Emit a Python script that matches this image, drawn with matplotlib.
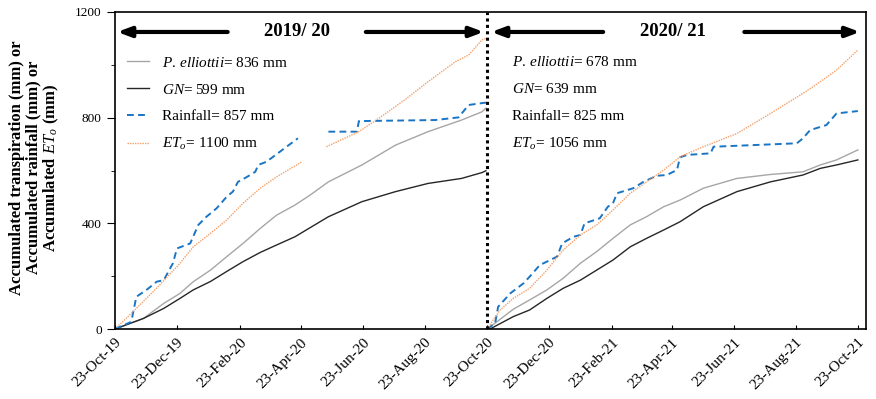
import pandas as pd
import numpy as np
import matplotlib
matplotlib.use('Agg')
import matplotlib.pyplot as plt
import matplotlib.dates as mdates
from matplotlib.ticker import MultipleLocator

plt.rcParams['font.family'] = 'Liberation Serif'
plt.rcParams['mathtext.fontset'] = 'custom'
plt.rcParams['mathtext.rm'] = 'Liberation Serif'
plt.rcParams['mathtext.it'] = 'Liberation Serif:italic'
plt.rcParams['mathtext.bf'] = 'Liberation Serif:bold'

nan = np.nan
start1 = pd.Timestamp('2019-10-23')
start2 = pd.Timestamp('2020-10-23')

# season 2019/20 (days since 23-Oct-19, accumulated mm)
pe1_days = [0, 28, 48, 64, 77, 94, 110, 126, 143, 159, 177, 192, 210, 243, 276, 308, 341, 361, 365]
pe1 = [0, 40, 97, 135, 179, 223, 274, 324, 381, 431, 469, 507, 557, 621, 696, 747, 791, 822, 836]
gn1_days = [0, 28, 48, 64, 77, 94, 110, 126, 143, 159, 177, 210, 243, 276, 308, 341, 361, 365]
gn1 = [0, 40, 78, 116, 148, 180, 218, 255, 290, 318, 349, 425, 482, 520, 551, 570, 592, 599]
rain1_days = [0, 16, 21, 31, 41, 48, 57, 61, 74, 82, 90, 100, 110, 116, 121, 130, 138, 141, 149,
              180, 181, 210, 238, 240, 315, 338, 348, 359, 365]
rain1 = [0, 27, 122, 148, 179, 185, 249, 305, 324, 394, 425, 457, 501, 520, 557, 576, 595, 621, 633,
         722, nan, 747, 747, 787, 791, 801, 848, 854, 857]
eto1_days = [0, 15, 28, 41, 52, 62, 77, 94, 110, 126, 143, 159, 184, 185, 208, 240, 262, 285, 308,
             335, 348, 361, 365]
eto1 = [0, 55, 105, 155, 200, 240, 311, 362, 413, 476, 533, 576, 633, nan, 690, 747, 804, 867, 936,
        1012, 1037, 1094, 1100]

# season 2020/21 (days since 23-Oct-20)
pe2_days = [0, 10, 26, 42, 59, 75, 92, 108, 124, 141, 157, 174, 190, 213, 246, 279, 311, 328, 344, 365]
pe2 = [0, 28, 75, 110, 148, 192, 249, 293, 343, 394, 425, 463, 488, 533, 570, 585, 595, 621, 640, 678]
gn2_days = [0, 3, 26, 42, 59, 75, 92, 108, 124, 141, 157, 174, 190, 213, 246, 279, 311, 328, 344, 365]
gn2 = [0, 0, 47, 72, 116, 154, 185, 223, 261, 311, 343, 375, 406, 463, 520, 557, 583, 608, 621, 640]
rain2_days = [0, 8, 11, 23, 36, 42, 52, 59, 69, 74, 85, 92, 96, 111, 119, 124, 128, 144, 154, 167,
              177, 187, 190, 197, 220, 223, 305, 311, 318, 334, 344, 365]
rain2 = [0, 21, 84, 135, 173, 198, 242, 255, 274, 324, 349, 356, 400, 419, 463, 476, 514, 533, 557, 580,
         583, 602, 650, 659, 665, 690, 703, 722, 753, 772, 816, 825]
eto2_days = [0, 13, 26, 42, 59, 75, 92, 108, 124, 141, 157, 174, 190, 213, 246, 279, 311, 328, 344, 365]
eto2 = [0, 72, 116, 154, 223, 299, 356, 394, 450, 514, 557, 602, 652, 690, 740, 816, 892, 936, 980, 1056]

labels1 = [r'$\mathit{P.\,elliottii}$= 836 mm', r'$\mathit{GN}$= 599 mm',
           'Rainfall= 857 mm', r'$ET_o$= 1100 mm']
labels2 = [r'$\mathit{P.\,elliottii}$= 678 mm', r'$\mathit{GN}$= 639 mm',
           'Rainfall= 825 mm', r'$ET_o$= 1056 mm']


def dates(start, days):
    return start + pd.to_timedelta(days, unit='D')


fig = plt.figure(figsize=(8.76, 3.99), dpi=100)
ax = fig.add_axes([115/876, 1-329/399, 751/876, 317/399])

styles = [dict(color='#a6a6a6', lw=1.0),
          dict(color='#262626', lw=1.0),
          dict(color='#1a75c4', lw=1.4, dashes=(3.5, 2.2)),
          dict(color='#f4a06a', lw=1.0, dashes=(1, 0.8))]

season1 = [(pe1_days, pe1), (gn1_days, gn1), (rain1_days, rain1), (eto1_days, eto1)]
season2 = [(pe2_days, pe2), (gn2_days, gn2), (rain2_days, rain2), (eto2_days, eto2)]
handles = []
for (d, v), st, lab in zip(season1, styles, labels1):
    h, = ax.plot(dates(start1, d), v, label=lab, **st)
    handles.append(h)
for (d, v), st in zip(season2, styles):
    ax.plot(dates(start2, d), v, **st)

ax.axvline(start2, color='black', lw=2.2, dashes=(1, 1.1))

ax.set_ylim(0, 1200)
ax.set_xlim(start1, pd.Timestamp('2021-10-31'))
ax.yaxis.set_major_locator(MultipleLocator(400))
ax.yaxis.set_minor_locator(MultipleLocator(200))
ax.tick_params(axis='y', which='major', direction='out', length=6, labelsize=9.5)
ax.tick_params(axis='y', which='minor', direction='out', length=3)
ax.set_xticks(pd.date_range('2019-10-23', '2021-10-23', freq=pd.DateOffset(months=2)))
ax.xaxis.set_major_formatter(mdates.DateFormatter('%d-%b-%y'))
ax.tick_params(axis='x', direction='in', length=3, labelsize=11, pad=5)
for t in ax.get_xticklabels():
    t.set_rotation(45)
    t.set_ha('right')
    t.set_rotation_mode('anchor')
for s in ax.spines.values():
    s.set_linewidth(1.2)

fig.text(35/876, 0.58, 'Accumulated transpiration (mm) or\nAccumulated rainfall (mm) or\n'
         r'Accumulated $ET_o$ (mm)', rotation=90, ha='center', va='center',
         fontsize=12, fontweight='bold', linespacing=1.05, multialignment='center')

ax.legend(handles=handles, loc='upper left', bbox_to_anchor=(0.008, 0.882), frameon=False,
          fontsize=11, handlelength=1.4, handletextpad=0.9, labelspacing=0.85,
          borderaxespad=0, borderpad=0.4)

for lab, yf in zip(labels2, [0.842, 0.756, 0.67, 0.584]):
    ax.text(0.529, yf, lab, transform=ax.transAxes, fontsize=11, va='center', ha='left')

# season headers with arrows
ax.text(0.242, 0.937, '2019/ 20', transform=ax.transAxes, ha='center', va='center',
        fontsize=13.5, fontweight='bold')
ax.text(0.743, 0.937, '2020/ 21', transform=ax.transAxes, ha='center', va='center',
        fontsize=13.5, fontweight='bold')
arr = dict(arrowstyle='-|>,head_length=0.8,head_width=0.3', lw=3, color='black',
           shrinkA=0, shrinkB=0)
for tail, head in [(0.150, 0.003), (0.334, 0.491), (0.650, 0.501), (0.838, 0.992)]:
    ax.annotate('', xy=(head, 0.937), xytext=(tail, 0.937), xycoords='axes fraction',
                arrowprops=arr)

fig.savefig('out.png', dpi=100)
